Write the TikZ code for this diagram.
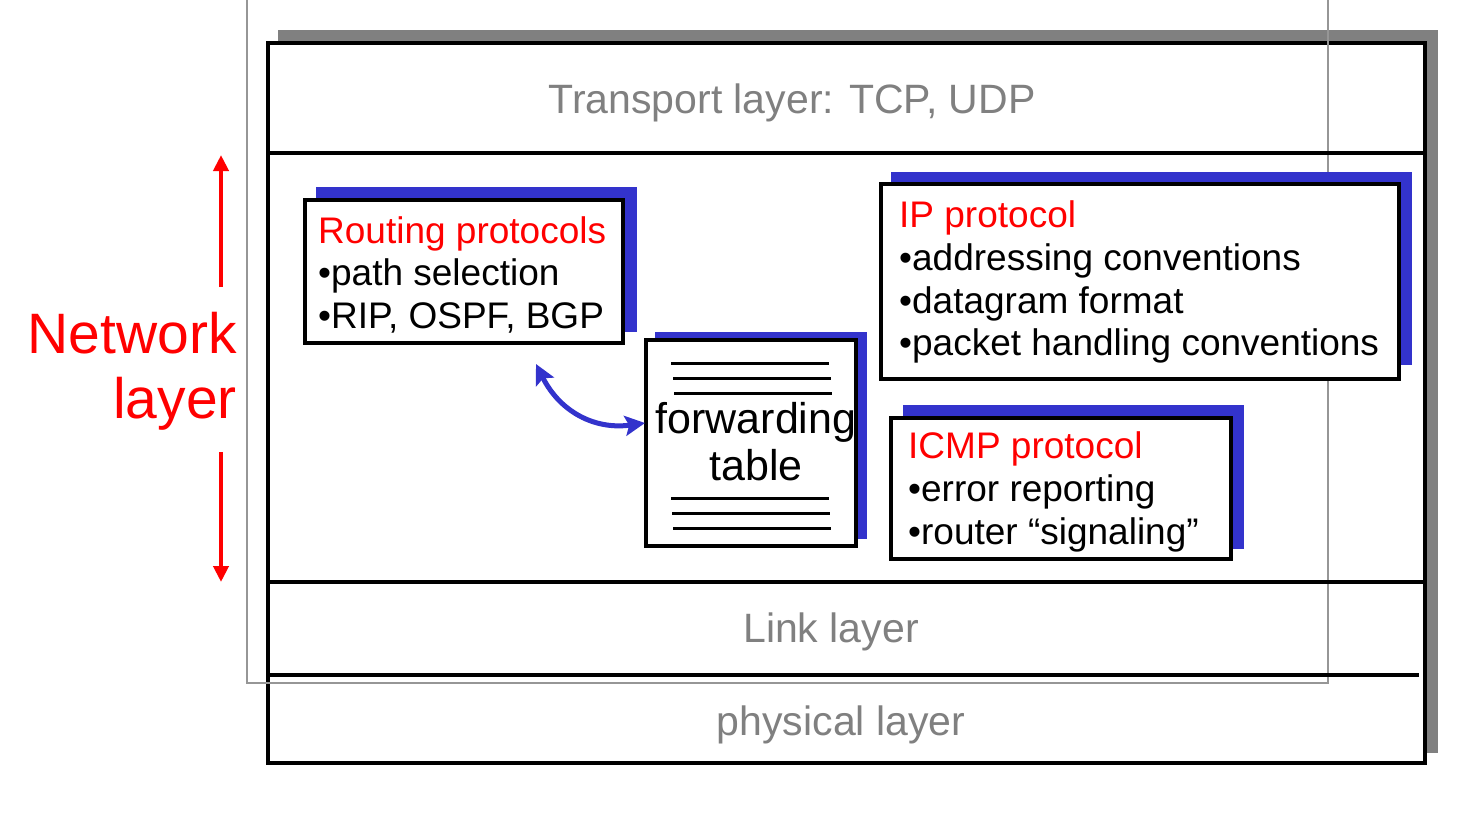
\documentclass[tikz,border=0pt]{standalone}
\usepackage{fontspec}
\setmainfont{Liberation Sans}
\usetikzlibrary{arrows.meta}
\definecolor{layergray}{RGB}{128,128,128}
\definecolor{shadowblue}{RGB}{51,51,204}
\definecolor{shadowgray}{RGB}{128,128,128}
\definecolor{framegray}{RGB}{150,150,150}
\definecolor{titlered}{RGB}{255,0,0}

\begin{document}
\begin{tikzpicture}[x=1pt,y=-1pt,
  layerlabel/.style={font=\fontsize{41}{41}\selectfont, text=layergray, inner sep=0pt, anchor=base},
  boxtitle/.style={font=\fontsize{37}{37}\selectfont, text=titlered, inner sep=0pt, anchor=base west},
  boxitem/.style={font=\fontsize{37}{37}\selectfont, text=black, inner sep=0pt, anchor=base west},
  tabletext/.style={font=\fontsize{43}{43}\selectfont, text=black, inner sep=0pt, anchor=base},
  sidelabel/.style={font=\fontsize{57}{57}\selectfont, text=titlered, inner sep=0pt, anchor=base east},
  panel/.style={draw=black, line width=3.5pt, fill=white, inner sep=0pt},
  blueshadow/.style={fill=shadowblue},
  rule/.style={line width=3.5pt},
  tablerule/.style={line width=3pt},
  redarrow/.style={titlered, line width=4pt, -{Triangle[length=16pt,width=15pt]}},
  bluearrow/.style={shadowblue, line width=5pt,
    {Stealth[length=20pt,width=20pt,inset=4pt]}-{Stealth[length=20pt,width=20pt,inset=4pt]}}
]
\useasboundingbox (0,0) rectangle (1466,814);

% protocol stack with its gray drop shadow
\fill[shadowgray] (278,30) rectangle (1438,753);
\node[panel, minimum width=1157pt, minimum height=720pt] (stack) at (846.5,403) {};

% thin outline frame
\draw[framegray, line width=1.5pt] (247,-2) -- (247,683) -- (1328,683) -- (1328,-2);

% layer separators
\draw[rule] (270,153) -- (1425,153);
\draw[rule] (270,582) -- (1425,582);
\draw[rule] (266,675) -- (1419,675);

% layer names
\node[layerlabel] (transport) at (792,113) {Transport layer: TCP, UDP};
\node[layerlabel] (link) at (831,642) {Link layer};
\node[layerlabel] (physical) at (841,735) {physical layer};

% routing protocols
\fill[blueshadow] (316,187) rectangle (637,332);
\node[panel, minimum width=318pt, minimum height=143pt] (routing) at (464,271.5) {};
\node[boxtitle] (routingT) at (318,243) {Routing protocols};
\node[boxitem] (routingA) at (318,285) {•path selection};
\node[boxitem] (routingB) at (318,328) {•RIP, OSPF, BGP};

% forwarding table
\fill[blueshadow] (655,332) rectangle (867,539);
\node[panel, minimum width=210pt, minimum height=206pt] (fwd) at (751,443) {};
\draw[tablerule] (671,363) -- (829,363);
\draw[tablerule] (673,378) -- (831,378);
\draw[tablerule] (674,393) -- (832,393);
\draw[tablerule] (671,498) -- (829,498);
\draw[tablerule] (672,513) -- (830,513);
\draw[tablerule] (673,528) -- (831,528);
\node[tabletext] (fwdA) at (756,433) {forwarding};
\node[tabletext] (fwdB) at (756,480) {table};

% IP protocol
\fill[blueshadow] (891,172) rectangle (1412,365);
\node[panel, minimum width=518pt, minimum height=195pt] (ip) at (1140,281.5) {};
\node[boxtitle] (ipT) at (899,227) {IP protocol};
\node[boxitem] (ipA) at (899,270) {•addressing conventions};
\node[boxitem] (ipB) at (899,313) {•datagram format};
\node[boxitem] (ipC) at (899,355) {•packet handling conventions};

% ICMP protocol
\fill[blueshadow] (903,405) rectangle (1244,549);
\node[panel, minimum width=340pt, minimum height=141pt] (icmp) at (1061,488.5) {};
\node[boxtitle] (icmpT) at (908,458) {ICMP protocol};
\node[boxitem] (icmpA) at (908,501) {•error reporting};
\node[boxitem] (icmpB) at (908,544) {•router “signaling”};

% routing computes the forwarding table
\coordinate (rtip) at (536,364);
\coordinate (ftip) at (645,423);
\draw[bluearrow] (rtip) .. controls (560,412) and (595,430) .. (ftip);

% network layer extent
\node[sidelabel] (netA) at (237,353) {Network};
\node[sidelabel] (netB) at (237,418) {layer};
\coordinate (upS) at (221,287);
\coordinate (upE) at (221,155);
\coordinate (dnS) at (221,452);
\coordinate (dnE) at (221,582);
\draw[redarrow] (upS) -- (upE);
\draw[redarrow] (dnS) -- (dnE);
\end{tikzpicture}
\end{document}
